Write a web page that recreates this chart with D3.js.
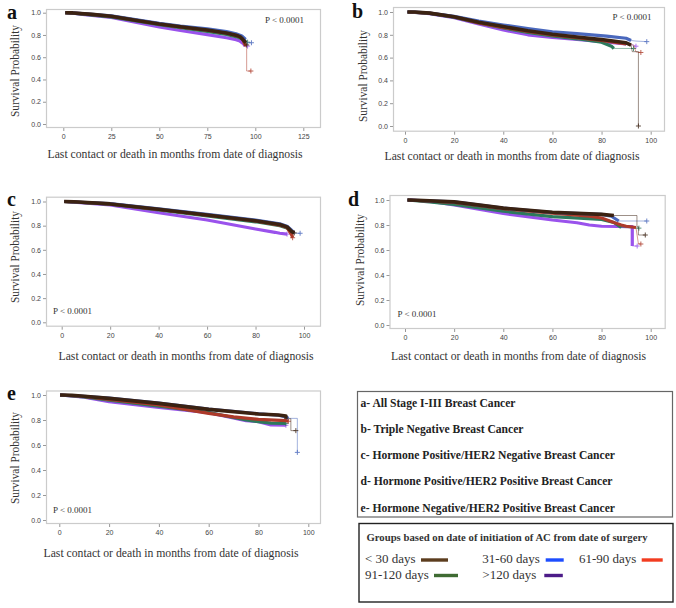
<!DOCTYPE html>
<html><head><meta charset="utf-8">
<script src="https://cdn.jsdelivr.net/npm/d3@7"></script>
<style>
html,body{margin:0;padding:0;background:#fff;}
svg{display:block;}
</style></head>
<body>
<svg id="chart" width="676" height="608"></svg>
<script>
// ---------- data ----------
const groups = ["< 30 days", "31-60 days", "61-90 days", "91-120 days", ">120 days"];
const lineColors = ["#3b2212", "#4a68bd", "#ad3a2a", "#2c7a5c", "#9a52ec"];
const legendColors = ["#5c3d1e", "#1d4dff", "#f23c20", "#3f6b33", "#4c1b88"];
const panelTitles = [
  "a- All Stage I-III Breast Cancer",
  "b- Triple Negative Breast Cancer",
  "c- Hormone Positive/HER2 Negative Breast Cancer",
  "d- Hormone Positive/HER2 Positive Breast Cancer",
  "e- Hormone Negative/HER2 Positive Breast Cancer"
];
const legendHeader = "Groups based on date of initiation of AC from date of surgery";
const pLabel = "P < 0.0001";
const xTitle = "Last contact or death in months from date of diagnosis";
const yTitle = "Survival Probability";
const xTicksA = [0, 25, 50, 75, 100, 125];
const xTicksB = [0, 20, 40, 60, 80, 100];
const yTicks = [0, 0.2, 0.4, 0.6, 0.8, 1.0];

// panel a
const a_lt30 = [[1,1],[5,0.998],[15,0.985],[25,0.968],[40,0.925],[50,0.898],[61,0.874],[75,0.845],[85,0.818],[90,0.797],[92,0.785],[93.5,0.76],[95,0.73],[95.5,0.71]];
const a_31_60 = [[1,1],[5,0.998],[25,0.972],[50,0.905],[61,0.88],[75,0.855],[85,0.83],[90,0.81],[93,0.79],[95,0.76],[96,0.73],[98,0.73]];
const a_61_90 = [[1,1],[5,0.998],[25,0.968],[50,0.9],[61,0.872],[75,0.842],[85,0.815],[90,0.795],[93,0.775],[95,0.7],[95.5,0.68],[95.5,0.476],[97.7,0.476]];
const a_91_120 = [[1,1],[5,0.997],[25,0.963],[50,0.893],[61,0.865],[75,0.832],[85,0.805],[90,0.785],[93,0.765],[95,0.74],[96,0.735]];
const a_gt120 = [[2,1],[4,0.997],[10,0.985],[25,0.957],[50,0.873],[61,0.84],[75,0.803],[85,0.775],[90,0.758],[92,0.745],[94,0.72],[94.5,0.70],[96,0.70]];
// panel b
const b_lt30 = [[1,1],[4,1],[10,0.99],[20,0.958],[30,0.91],[40,0.872],[50,0.835],[60,0.805],[70,0.78],[80,0.758],[90,0.73],[92,0.71],[92.5,0.652],[95,0.652],[95,0]];
const b_31_60 = [[1,1],[4,1],[10,0.99],[20,0.963],[30,0.92],[40,0.886],[50,0.855],[60,0.827],[70,0.81],[82,0.789],[90,0.77],[92,0.75],[94,0.745],[98.4,0.74]];
const b_61_90 = [[1,1],[10,0.99],[20,0.958],[30,0.905],[40,0.865],[50,0.83],[60,0.8],[70,0.775],[80,0.75],[90,0.72],[93,0.71],[94,0.65],[96,0.645]];
const b_91_120 = [[1,1],[10,0.988],[20,0.955],[30,0.905],[40,0.86],[50,0.82],[60,0.79],[70,0.765],[80,0.735],[84,0.7],[85,0.68],[93,0.68]];
const b_gt120 = [[2,1],[10,0.985],[20,0.95],[30,0.895],[40,0.842],[50,0.8],[60,0.778],[70,0.76],[80,0.74],[90,0.72],[93,0.71],[94,0.70]];
// panel c
const c_lt30 = [[1,1],[5,0.998],[20,0.98],[40,0.936],[60,0.888],[80,0.841],[90,0.81],[93,0.79],[95,0.75],[96,0.74]];
const c_31_60 = [[1,1],[20,0.982],[40,0.94],[60,0.893],[80,0.846],[90,0.815],[93,0.795],[95,0.76],[96,0.737],[98.4,0.737]];
const c_61_90 = [[1,1],[20,0.98],[40,0.934],[60,0.886],[80,0.84],[90,0.805],[93,0.785],[95,0.72],[95.3,0.70]];
const c_91_120 = [[1,1],[20,0.978],[40,0.93],[60,0.88],[80,0.832],[90,0.8],[93,0.78],[95,0.745]];
const c_gt120 = [[2,1],[5,0.995],[20,0.972],[40,0.907],[60,0.847],[80,0.772],[88,0.745],[90,0.737],[93,0.73]];
// panel d
const d_lt30 = [[1,1],[5,0.998],[20,0.985],[40,0.935],[60,0.902],[80,0.885],[85,0.876],[94.4,0.876],[94.4,0.786],[95,0.786],[95,0.72],[97.8,0.72]];
const d_31_60 = [[1,1],[20,0.985],[40,0.935],[60,0.9],[80,0.885],[84,0.87],[87,0.832],[98.4,0.832]];
const d_61_90 = [[1,1],[20,0.98],[40,0.93],[60,0.895],[75,0.87],[80,0.856],[85,0.82],[88,0.8],[90,0.79],[94,0.78],[95,0.65],[96,0.648]];
const d_91_120 = [[1,1],[10,0.985],[20,0.965],[40,0.91],[60,0.867],[80,0.845],[85,0.82],[88,0.78],[95.2,0.775]];
const d_gt120 = [[2,1],[10,0.99],[20,0.96],[40,0.893],[60,0.84],[70,0.818],[75,0.8],[80,0.79],[92.5,0.787],[92.5,0.632],[94.5,0.632]];
// panel e
const e_lt30 = [[0.3,1],[5,0.998],[10,0.99],[20,0.973],[40,0.933],[60,0.885],[80,0.848],[88,0.84],[91,0.832],[91,0.81],[93,0.81],[93,0.715],[95,0.715]];
const e_31_60 = [[0.3,1],[10,0.99],[20,0.975],[40,0.935],[60,0.888],[80,0.85],[88,0.838],[91,0.825],[92,0.813],[95.6,0.813],[95.6,0.541]];
const e_61_90 = [[0.3,1],[10,0.988],[20,0.965],[40,0.92],[60,0.853],[70,0.825],[80,0.805],[91,0.795],[92,0.79]];
const e_91_120 = [[0.3,1],[10,0.985],[20,0.958],[40,0.91],[60,0.86],[75,0.8],[80,0.787],[85,0.775],[91,0.772]];
const e_gt120 = [[0.3,1],[10,0.983],[20,0.947],[40,0.901],[60,0.859],[75,0.795],[80,0.787],[85,0.76],[91,0.758]];

const seriesByPanel = {
  a: [a_lt30, a_31_60, a_61_90, a_91_120, a_gt120],
  b: [b_lt30, b_31_60, b_61_90, b_91_120, b_gt120],
  c: [c_lt30, c_31_60, c_61_90, c_91_120, c_gt120],
  d: [d_lt30, d_31_60, d_61_90, d_91_120, d_gt120],
  e: [e_lt30, e_31_60, e_61_90, e_91_120, e_gt120]
};

// ---------- layout ----------
const panels = [
  {key:"a", box:[46,9,321,128], xRef:[0,125], xPx:[63.3,303.3], yPx:[124,12.7], ticks:xTicksA, tail:95,
   label:[7,19], ytitle:[15,71], xtitle:[175,158], p:[265,22.5]},
  {key:"b", box:[393,7,665,131.7], xRef:[0,100], xPx:[405,650.7], yPx:[126,12], ticks:xTicksB, tail:92.4,
   label:[352,18], ytitle:[363,76], xtitle:[512,160], p:[612.5,20]},
  {key:"c", box:[46,196.7,321,326.7], xRef:[0,100], xPx:[61.7,304], yPx:[322.3,201.5], ticks:xTicksB, tail:96.5,
   label:[7,206], ytitle:[15,257], xtitle:[186,360], p:[53,313.5]},
  {key:"d", box:[389.5,195,665.7,329], xRef:[0,100], xPx:[405,650.7], yPx:[325,200], ticks:xTicksB, tail:94.3,
   label:[348,206], ytitle:[360,260], xtitle:[518.5,360], p:[397.5,316.5]},
  {key:"e", box:[46,390.5,321,524], xRef:[0,100], xPx:[59.3,308.3], yPx:[520,395], ticks:xTicksB, tail:92.5,
   label:[7,400], ytitle:[15,458], xtitle:[171,557], p:[53,512.5]}
];
const drawOrder = [4, 3, 2, 1, 0];

const svg = d3.select("#chart");
const serif = "'Liberation Serif','Times New Roman',Times,serif";
const sans = "'Liberation Sans',Arial,Helvetica,sans-serif";

panels.forEach(P => {
  const g = svg.append("g");
  const [bx0, by0, bx1, by1] = P.box;
  const x = d3.scaleLinear().domain(P.xRef).range(P.xPx);
  const y = d3.scaleLinear().domain([0, 1]).range(P.yPx);

  g.append("rect").attr("x", bx0 + 0.5).attr("y", by0 + 0.5)
    .attr("width", bx1 - bx0 - 1).attr("height", by1 - by0 - 1)
    .attr("fill", "none").attr("stroke", "#cbcbcb").attr("stroke-width", 1.2);

  const xa = g.append("g").attr("transform", `translate(0,${by1})`)
    .call(d3.axisBottom(x).tickValues(P.ticks).tickSize(3).tickPadding(3).tickFormat(d3.format("d")));
  xa.select(".domain").remove();
  xa.selectAll("line").attr("stroke", "#999");
  xa.selectAll("text").attr("font-family", sans).attr("font-size", 7).attr("fill", "#444");

  const ya = g.append("g").attr("transform", `translate(${bx0},0)`)
    .call(d3.axisLeft(y).tickValues(yTicks).tickSize(3).tickPadding(2).tickFormat(d3.format(".1f")));
  ya.select(".domain").remove();
  ya.selectAll("line").attr("stroke", "#999");
  ya.selectAll("text").attr("font-family", sans).attr("font-size", 7).attr("fill", "#444");

  const line = d3.line().x(d => x(d[0])).y(d => y(d[1]));
  const data = seriesByPanel[P.key];
  drawOrder.forEach(i => {
    const s = data[i];
    g.append("path").attr("d", line(s)).attr("fill", "none")
      .attr("stroke", lineColors[i]).attr("stroke-width", 1).attr("opacity", 0.5);
    const dense = s.filter(d => d[0] <= P.tail);
    g.append("path").attr("d", line(dense)).attr("fill", "none")
      .attr("stroke", lineColors[i]).attr("stroke-width", i === 0 ? 3.6 : 3.2)
      .attr("stroke-linejoin", "round");
    const last = s[s.length - 1];
    const cx = x(last[0]), cy = y(last[1]);
    g.append("path").attr("d", `M${cx-2.5},${cy}H${cx+2.5}M${cx},${cy-2.5}V${cy+2.5}`)
      .attr("stroke", lineColors[i]).attr("stroke-width", 1).attr("opacity", 0.8);
  });

  g.append("text").attr("x", P.p[0]).attr("y", P.p[1])
    .attr("font-family", serif).attr("font-size", 9).attr("fill", "#333").text(pLabel);

  g.append("text").attr("x", P.xtitle[0]).attr("y", P.xtitle[1]).attr("text-anchor", "middle")
    .attr("font-family", serif).attr("font-size", 12.5).attr("fill", "#333")
    .attr("textLength", 255).attr("lengthAdjust", "spacingAndGlyphs").text(xTitle);
  g.append("text").attr("transform", `translate(${P.ytitle[0]},${P.ytitle[1]}) rotate(-90)`)
    .attr("text-anchor", "middle").attr("dy", "0.35em")
    .attr("font-family", serif).attr("font-size", 12.5).attr("fill", "#333")
    .attr("textLength", 92).attr("lengthAdjust", "spacingAndGlyphs").text(yTitle);
  g.append("text").attr("x", P.label[0]).attr("y", P.label[1])
    .attr("font-family", serif).attr("font-weight", "bold").attr("font-size", 20).attr("fill", "#111")
    .text(P.key);
});

// ---------- legend box 1 ----------
const L1 = svg.append("g");
L1.append("rect").attr("x", 357.5).attr("y", 391.5).attr("width", 315).attr("height", 125.5)
  .attr("fill", "none").attr("stroke", "#666").attr("stroke-width", 1.2);
const titleY = [406.5, 432.5, 458.5, 485, 512];
const titleW = [155, 163, 254.5, 252, 254.5];
panelTitles.forEach((t, i) => {
  L1.append("text").attr("x", 360.5).attr("y", titleY[i])
    .attr("font-family", serif).attr("font-weight", "bold").attr("font-size", 12).attr("fill", "#222")
    .attr("textLength", titleW[i]).attr("lengthAdjust", "spacingAndGlyphs").text(t);
});

// ---------- legend box 2 ----------
const L2 = svg.append("g");
L2.append("rect").attr("x", 359).attr("y", 523.5).attr("width", 314).attr("height", 78.5)
  .attr("fill", "none").attr("stroke", "#222").attr("stroke-width", 1.4);
L2.append("text").attr("x", 366.5).attr("y", 541).attr("font-family", serif).attr("font-weight", "bold")
  .attr("font-size", 10.3).attr("fill", "#333").attr("textLength", 281).attr("lengthAdjust", "spacingAndGlyphs")
  .text(legendHeader);
const legPos = [
  {tx:365, ty:562.5, sx:421, sw:27, sy:560},
  {tx:482.3, ty:562.5, sx:545.7, sw:18, sy:560},
  {tx:579, ty:562.5, sx:641.7, sw:21, sy:560},
  {tx:365, ty:578.5, sx:434, sw:24, sy:575.5},
  {tx:482.3, ty:578.5, sx:544.3, sw:18.5, sy:575.5}
];
groups.forEach((gname, i) => {
  const p = legPos[i];
  L2.append("text").attr("x", p.tx).attr("y", p.ty).attr("font-family", serif)
    .attr("font-size", 13).attr("fill", "#333").text(gname);
  L2.append("rect").attr("x", p.sx).attr("y", p.sy - 1.7).attr("width", p.sw).attr("height", 3.4)
    .attr("fill", legendColors[i]);
});
</script>
</body></html>
